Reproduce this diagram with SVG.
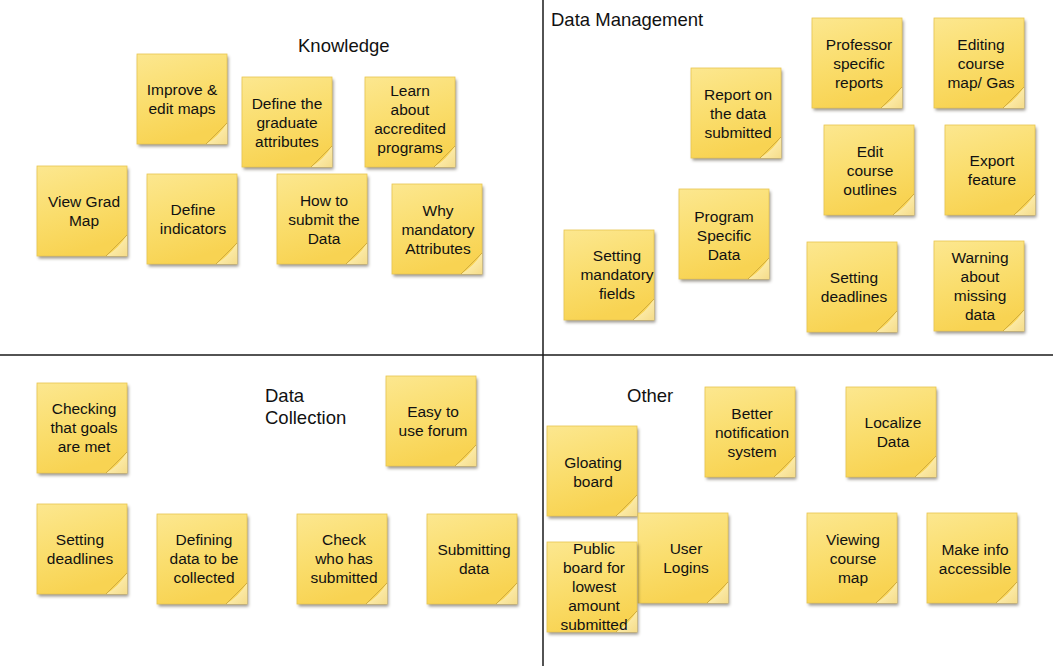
<svg xmlns="http://www.w3.org/2000/svg" xmlns:xlink="http://www.w3.org/1999/xlink" width="1053" height="666" viewBox="0 0 1053 666">
  <style>
    .t { font-family: "Liberation Sans", Arial, sans-serif; font-size: 15.5px; fill: #111111; text-anchor: middle; }
    .h { font-family: "Liberation Sans", Arial, sans-serif; font-size: 18.5px; fill: #111111; }
    .div { stroke: #1a1a1a; stroke-width: 1.5; fill: none; }
  </style>
  <defs>
    <linearGradient id="paper" x1="0" y1="0" x2="0.3" y2="1">
      <stop offset="0" stop-color="#fce78f"/>
      <stop offset="0.55" stop-color="#fadd6c"/>
      <stop offset="1" stop-color="#f8d352"/>
    </linearGradient>
    <linearGradient id="curl" x1="0" y1="0" x2="1" y2="1">
      <stop offset="0" stop-color="#f9dc6a"/>
      <stop offset="0.55" stop-color="#fbe9a4"/>
      <stop offset="1" stop-color="#f5dc8a"/>
    </linearGradient>
    <filter id="soft" x="-20%" y="-20%" width="140%" height="140%">
      <feGaussianBlur stdDeviation="1.6"/>
    </filter>
    <!-- one sticky note, 90 x 90, with drop shadow and a lifted corner -->
    <g id="note">
      <rect x="1.5" y="2.5" width="90" height="90" fill="#3a3020" opacity="0.5" filter="url(#soft)"/>
      <rect x="0" y="0" width="90" height="90" fill="url(#paper)" stroke="#e8c650" stroke-width="0.8"/>
      <path d="M69,90 Q82,82 90,69 L90,90 Z" fill="url(#curl)"/>
      <path d="M69,90 L90,69" stroke="#d2ad3e" stroke-width="1" fill="none"/>
    </g>
  </defs>

  <rect x="0" y="0" width="1053" height="666" fill="#ffffff"/>

  <!-- quadrant dividers -->
  <g id="connectors">
    <line class="div" x1="543" y1="0" x2="543" y2="666"/>
    <line class="div" x1="0" y1="355" x2="1053" y2="355"/>
  </g>

  <!-- quadrant headings -->
  <g id="headings">
    <text class="h" x="298" y="52">Knowledge</text>
    <text class="h" x="551" y="26">Data Management</text>
    <text class="h" x="265" y="402">Data</text>
    <text class="h" x="265" y="424">Collection</text>
    <text class="h" x="627" y="402">Other</text>
  </g>

  <!-- Knowledge -->
  <g id="n-improve"><use xlink:href="#note" x="137" y="54"/>
    <text class="t" x="182" y="95">Improve &amp;</text><text class="t" x="182" y="114">edit maps</text></g>
  <g id="n-define-grad"><use xlink:href="#note" x="242" y="77"/>
    <text class="t" x="287" y="109">Define the</text><text class="t" x="287" y="128">graduate</text><text class="t" x="287" y="147">attributes</text></g>
  <g id="n-learn"><use xlink:href="#note" x="365" y="77"/>
    <text class="t" x="410" y="96">Learn</text><text class="t" x="410" y="115">about</text><text class="t" x="410" y="134">accredited</text><text class="t" x="410" y="153">programs</text></g>
  <g id="n-view-grad"><use xlink:href="#note" x="37" y="166"/>
    <text class="t" x="84" y="207">View Grad</text><text class="t" x="84" y="226">Map</text></g>
  <g id="n-define-ind"><use xlink:href="#note" x="147" y="174"/>
    <text class="t" x="193" y="215">Define</text><text class="t" x="193" y="234">indicators</text></g>
  <g id="n-how-submit"><use xlink:href="#note" x="277" y="174"/>
    <text class="t" x="324" y="206">How to</text><text class="t" x="324" y="225">submit the</text><text class="t" x="324" y="244">Data</text></g>
  <g id="n-why"><use xlink:href="#note" x="392" y="184"/>
    <text class="t" x="438" y="216">Why</text><text class="t" x="438" y="235">mandatory</text><text class="t" x="438" y="254">Attributes</text></g>

  <!-- Data Management -->
  <g id="n-prof"><use xlink:href="#note" x="812" y="18"/>
    <text class="t" x="859" y="50">Professor</text><text class="t" x="859" y="69">specific</text><text class="t" x="859" y="88">reports</text></g>
  <g id="n-editing"><use xlink:href="#note" x="934" y="18"/>
    <text class="t" x="981" y="50">Editing</text><text class="t" x="981" y="69">course</text><text class="t" x="981" y="88">map/ Gas</text></g>
  <g id="n-report"><use xlink:href="#note" x="691" y="68"/>
    <text class="t" x="738" y="100">Report on</text><text class="t" x="738" y="119">the data</text><text class="t" x="738" y="138">submitted</text></g>
  <g id="n-edit-outlines"><use xlink:href="#note" x="824" y="125"/>
    <text class="t" x="870" y="157">Edit</text><text class="t" x="870" y="176">course</text><text class="t" x="870" y="195">outlines</text></g>
  <g id="n-export"><use xlink:href="#note" x="945" y="125"/>
    <text class="t" x="992" y="166">Export</text><text class="t" x="992" y="185">feature</text></g>
  <g id="n-program"><use xlink:href="#note" x="679" y="189"/>
    <text class="t" x="724" y="222">Program</text><text class="t" x="724" y="241">Specific</text><text class="t" x="724" y="260">Data</text></g>
  <g id="n-setting-mand"><use xlink:href="#note" x="564" y="230"/>
    <text class="t" x="617" y="261">Setting</text><text class="t" x="617" y="280">mandatory</text><text class="t" x="617" y="299">fields</text></g>
  <g id="n-setting-dead-dm"><use xlink:href="#note" x="807" y="242"/>
    <text class="t" x="854" y="283">Setting</text><text class="t" x="854" y="302">deadlines</text></g>
  <g id="n-warning"><use xlink:href="#note" x="934" y="241"/>
    <text class="t" x="980" y="263">Warning</text><text class="t" x="980" y="282">about</text><text class="t" x="980" y="301">missing</text><text class="t" x="980" y="320">data</text></g>

  <!-- Data Collection -->
  <g id="n-checking"><use xlink:href="#note" x="37" y="383"/>
    <text class="t" x="84" y="414">Checking</text><text class="t" x="84" y="433">that goals</text><text class="t" x="84" y="452">are met</text></g>
  <g id="n-easy"><use xlink:href="#note" x="386" y="376"/>
    <text class="t" x="433" y="417">Easy to</text><text class="t" x="433" y="436">use forum</text></g>
  <g id="n-setting-dead-dc"><use xlink:href="#note" x="37" y="504"/>
    <text class="t" x="80" y="545">Setting</text><text class="t" x="80" y="564">deadlines</text></g>
  <g id="n-defining"><use xlink:href="#note" x="157" y="514"/>
    <text class="t" x="204" y="545">Defining</text><text class="t" x="204" y="564">data to be</text><text class="t" x="204" y="583">collected</text></g>
  <g id="n-check-who"><use xlink:href="#note" x="297" y="514"/>
    <text class="t" x="344" y="545">Check</text><text class="t" x="344" y="564">who has</text><text class="t" x="344" y="583">submitted</text></g>
  <g id="n-submitting"><use xlink:href="#note" x="427" y="514"/>
    <text class="t" x="474" y="555">Submitting</text><text class="t" x="474" y="574">data</text></g>

  <!-- Other -->
  <g id="n-better"><use xlink:href="#note" x="705" y="387"/>
    <text class="t" x="752" y="419">Better</text><text class="t" x="752" y="438">notification</text><text class="t" x="752" y="457">system</text></g>
  <g id="n-localize"><use xlink:href="#note" x="846" y="387"/>
    <text class="t" x="893" y="428">Localize</text><text class="t" x="893" y="447">Data</text></g>
  <g id="n-gloating"><use xlink:href="#note" x="547" y="426"/>
    <text class="t" x="593" y="468">Gloating</text><text class="t" x="593" y="487">board</text></g>
  <g id="n-user"><use xlink:href="#note" x="638" y="513"/>
    <text class="t" x="686" y="554">User</text><text class="t" x="686" y="573">Logins</text></g>
  <g id="n-public"><use xlink:href="#note" x="547" y="542"/>
    <text class="t" x="594" y="554">Public</text><text class="t" x="594" y="573">board for</text><text class="t" x="594" y="592">lowest</text><text class="t" x="594" y="611">amount</text><text class="t" x="594" y="630">submitted</text></g>
  <g id="n-viewing"><use xlink:href="#note" x="807" y="513"/>
    <text class="t" x="853" y="545">Viewing</text><text class="t" x="853" y="564">course</text><text class="t" x="853" y="583">map</text></g>
  <g id="n-make"><use xlink:href="#note" x="927" y="513"/>
    <text class="t" x="975" y="555">Make info</text><text class="t" x="975" y="574">accessible</text></g>
</svg>
